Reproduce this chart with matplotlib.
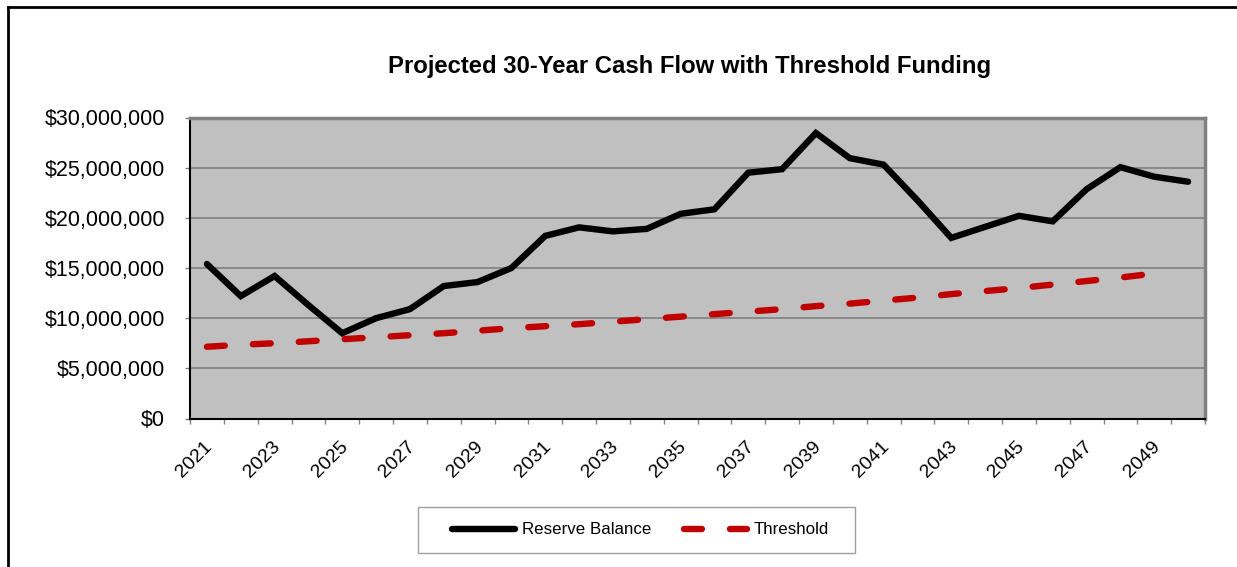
import matplotlib.pyplot as plt
from matplotlib.lines import Line2D
from matplotlib.patches import Rectangle
from matplotlib.ticker import FuncFormatter
import matplotlib.transforms as mtransforms
import numpy as np

plt.rcParams['font.family'] = ['Liberation Sans', 'DejaVu Sans']

# projected reserve balance and threshold, in dollars
years = list(range(2021, 2051))
reserve = [15.4, 12.2, 14.2, 11.3, 8.5, 10.0, 10.9, 13.2, 13.6, 15.0,
           18.2, 19.05, 18.65, 18.9, 20.4, 20.85, 24.5, 24.85, 28.45, 25.95,
           25.3, 21.75, 18.0, 19.1, 20.2, 19.65, 22.85, 25.05, 24.1, 23.6]
threshold = [7.15, 7.35, 7.5, 7.7, 7.9, 8.1, 8.3, 8.5, 8.75, 9.0,
             9.2, 9.4, 9.65, 9.9, 10.15, 10.4, 10.65, 10.9, 11.2, 11.45,
             11.75, 12.05, 12.4, 12.7, 13.0, 13.35, 13.7, 14.05, 14.45, np.nan]
reserve = [v * 1e6 for v in reserve]
threshold = [v * 1e6 for v in threshold]
tick_years = years[::2]

W, H = 1237, 567
fig = plt.figure(figsize=(W / 100, H / 100), dpi=100)
ax = fig.add_axes([190 / W, 1 - 418.5 / H, 1015 / W, 301 / H])

x = np.arange(len(years))
ax.plot(x, reserve, color='black', lw=4.6, solid_capstyle='round',
        solid_joinstyle='miter', label='Reserve Balance', zorder=4)
ax.plot(x, threshold, color='#C00000', lw=4.6, dashes=(2.8, 4.4),
        dash_capstyle='round', label='Threshold', zorder=3)

ax.set_xlim(-0.5, len(years) - 0.5)
ax.set_ylim(0, 30e6)
ax.set_facecolor('#C0C0C0')

# category boundaries carry the tick marks, labels sit under every other year
ax.set_xticks(np.arange(-0.5, len(years) + 0.5, 1))
ax.set_xticklabels([])
ax.set_xticks(x[::2], minor=True)
ax.set_xticklabels([str(y) for y in tick_years], minor=True, rotation=45,
                   ha='right', va='top', rotation_mode='anchor', fontsize=14)
ax.tick_params(axis='x', which='major', length=3.6, width=1, color='#808080')
ax.tick_params(axis='x', which='minor', length=0, pad=14)
shift = mtransforms.ScaledTranslation(-3 / 100, 0, fig.dpi_scale_trans)
for lab in ax.get_xticklabels(minor=True):
    lab.set_transform(lab.get_transform() + shift)

ax.set_yticks(np.arange(0, 30e6 + 1, 5e6))
ax.yaxis.set_major_formatter(FuncFormatter(lambda v, p: '${:,.0f}'.format(v)))
ax.tick_params(axis='y', length=3.6, width=1, color='#808080', labelsize=15.5, pad=14.4)
ax.grid(axis='y', color='#808080', lw=1.2)
ax.set_axisbelow(True)

ax.spines['left'].set_color('black')
ax.spines['bottom'].set_color('black')
ax.spines['left'].set_linewidth(1.5)
ax.spines['bottom'].set_linewidth(1.5)
ax.spines['top'].set_color('#808080')
ax.spines['right'].set_color('#808080')
ax.spines['top'].set_linewidth(2.5)
ax.spines['right'].set_linewidth(2.5)

fig.text(690 / W, 1 - 66 / H, 'Projected 30-Year Cash Flow with Threshold Funding',
         ha='center', va='center', fontsize=17.2, fontweight='bold')

# legend entries without their own frame, boxed separately
leg = fig.legend(loc='center', bbox_to_anchor=(640.5 / W, 1 - 530 / H),
                 ncol=2, frameon=False, fontsize=12.2,
                 handlelength=3.75, columnspacing=1.9, borderpad=0.9,
                 handletextpad=0.4, borderaxespad=0)
fig.add_artist(Rectangle((418 / W, 1 - 553 / H), 437 / W, 46 / H,
                         transform=fig.transFigure, fill=False,
                         edgecolor='#A0A0A0', lw=1))

# outer chart frame
fig.add_artist(Line2D([8 / W, 8 / W], [0, 1 - 7 / H], color='black', lw=2,
                      transform=fig.transFigure))
fig.add_artist(Line2D([8 / W, 1], [1 - 7 / H, 1 - 7 / H], color='black', lw=2,
                      transform=fig.transFigure))

fig.savefig('out.png', dpi=100)
